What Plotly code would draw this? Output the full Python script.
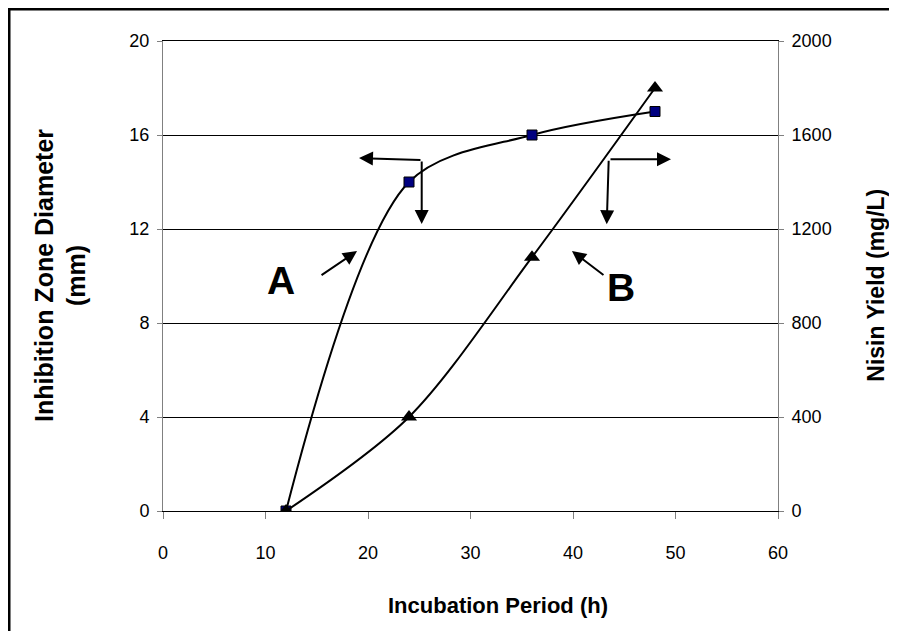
import plotly.graph_objects as go

# Data
incubation_h = [12, 24, 36, 48]
inhibition_zone_mm = [0, 14, 16, 17]          # series A (left axis)
nisin_yield_mgL = [0, 400, 1080, 1800]        # series B (right axis)
x_ticks = [0, 10, 20, 30, 40, 50, 60]
y_left_ticks = [0, 4, 8, 12, 16, 20]
y_right_ticks = [0, 400, 800, 1200, 1600, 2000]

FONT_W = "Liberation Sans, Arial, sans-serif"

fig = go.Figure()
fig.add_trace(go.Scatter(
    x=incubation_h, y=inhibition_zone_mm, mode="lines+markers",
    line=dict(color="black", width=2, shape="spline", smoothing=0.9),
    marker=dict(symbol="square", size=10, color="#000080", line=dict(color="black", width=1)),
    name="A", yaxis="y"))
fig.add_trace(go.Scatter(
    x=incubation_h, y=nisin_yield_mgL, mode="lines+markers",
    line=dict(color="black", width=2, shape="spline", smoothing=0.9),
    marker=dict(symbol="triangle-up", size=14, color="black"),
    name="B", yaxis="y2"))

arrow = dict(showarrow=True, arrowhead=2, arrowsize=1.4, arrowwidth=2, arrowcolor="black",
             xref="x", yref="y", text="")
annos = [
    dict(x=19.12, y=15.02, ax=63, ay=2),
    dict(x=25.24, y=12.21, ax=0, ay=-64),
    dict(x=18.93, y=11.06, ax=-37, ay=25),
    dict(x=39.9, y=11.06, ax=33, ay=25),
    dict(x=49.56, y=14.97, ax=-62, ay=0),
    dict(x=43.29, y=12.2, ax=2, ay=-65),
]
annotations = [dict(arrow, **a) for a in annos]
annotations += [
    dict(x=11.51, y=9.83, xref="x", yref="y", text="<b>A</b>", showarrow=False,
         xanchor="center", yanchor="middle",
         font=dict(family=FONT_W, size=39, color="black")),
    dict(x=44.68, y=9.53, xref="x", yref="y", text="<b>B</b>", showarrow=False,
         xanchor="center", yanchor="middle",
         font=dict(family=FONT_W, size=39, color="black")),
    dict(x=-0.1675, y=0.502, xref="paper", yref="paper", textangle=-90,
         xanchor="center", yanchor="middle",
         text="<b>Inhibition Zone Diameter<br>(mm)</b>", showarrow=False,
         font=dict(family=FONT_W, size=25, color="black")),
    dict(x=1.159, y=0.481, xref="paper", yref="paper", textangle=-90,
         xanchor="center", yanchor="middle",
         text="<b>Nisin Yield (mg/L)</b>", showarrow=False,
         font=dict(family=FONT_W, size=23, color="black")),
    dict(x=0.545, y=-0.202, xref="paper", yref="paper",
         xanchor="center", yanchor="middle",
         text="<b>Incubation Period (h)</b>", showarrow=False,
         font=dict(family=FONT_W, size=22, color="black")),
]

fig.update_layout(
    width=881, height=623,
    margin=dict(l=155, r=111, t=33, b=120),
    paper_bgcolor="white", plot_bgcolor="white",
    showlegend=False,
    font=dict(family=FONT_W, size=18, color="black"),
    xaxis=dict(range=[0, 60], tickvals=x_ticks, showgrid=False, zeroline=False,
               showline=True, linecolor="black", linewidth=1, mirror=True,
               ticks="outside", ticklen=7, tickcolor="#808080", ticklabelstandoff=18),
    yaxis=dict(range=[0, 20], tickvals=y_left_ticks, showgrid=True, gridcolor="black",
               gridwidth=1, zeroline=False, showline=True, linecolor="#808080", linewidth=1,
               ticks="outside", ticklen=5, tickcolor="#808080", ticklabelstandoff=4),
    yaxis2=dict(range=[0, 2000], tickvals=y_right_ticks, overlaying="y", side="right",
                showgrid=False, zeroline=False, showline=True, linecolor="#808080", linewidth=1,
                ticks="outside", ticklen=5, tickcolor="#808080", ticklabelstandoff=4),
    annotations=annotations,
    shapes=[dict(type="rect", xref="paper", yref="paper", x0=-0.2504, x1=1.25, y0=-0.32, y1=1.068,
                 line=dict(color="black", width=3), fillcolor="rgba(0,0,0,0)", layer="below")],
)

fig.write_html("out.html")
